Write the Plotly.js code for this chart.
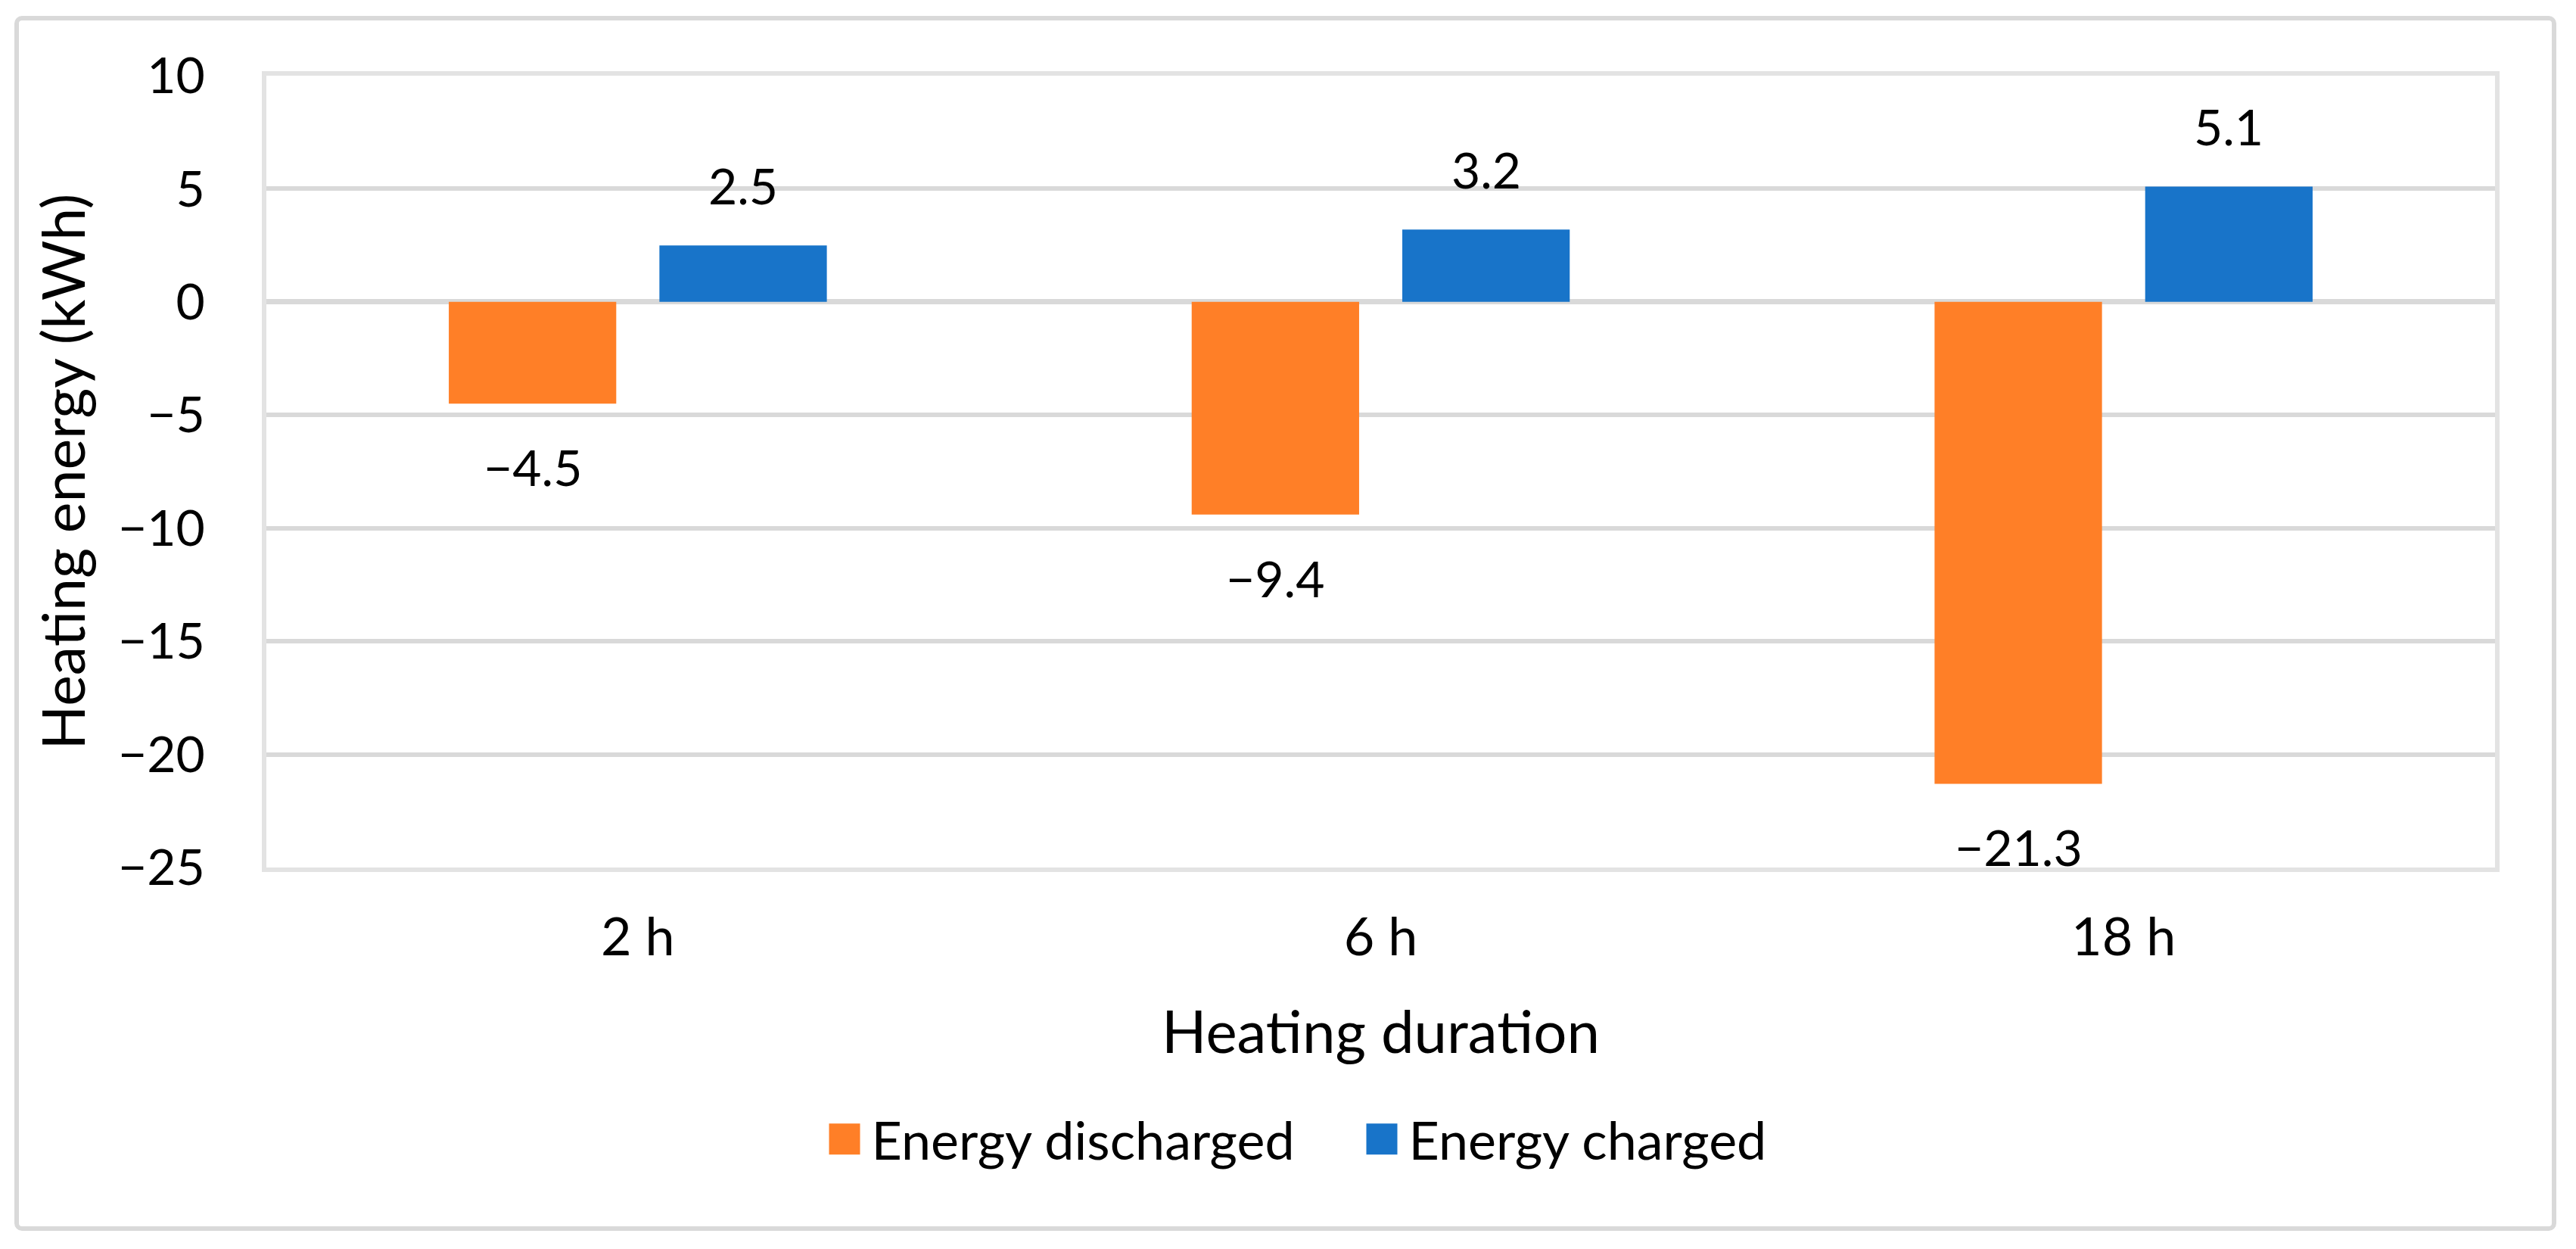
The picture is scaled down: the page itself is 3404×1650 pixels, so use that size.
<!DOCTYPE html>
<html>
<head>
<meta charset="utf-8">
<script src="https://cdn.plot.ly/plotly-3.0.1.min.js"></script>
<style>
  html, body { margin: 0; padding: 0; background: #ffffff; }
  #frame { position: absolute; left: 19px; top: 21px; width: 3359px; height: 1605px;
           border: 6px solid #d9d9d9; border-radius: 10px; box-sizing: border-box; }
  #chart { position: absolute; left: 0; top: 0; width: 3404px; height: 1650px; }
</style>
</head>
<body>
<div id="frame"></div>
<div id="chart"></div>
<script>
// ---- data ----
const categories = ['2 h', '6 h', '18 h'];
const energyDischarged = [-4.5, -9.4, -21.3];
const energyCharged = [2.5, 3.2, 5.1];
const seriesNames = ['Energy discharged', 'Energy charged'];
const yTickValues = [10, 5, 0, -5, -10, -15, -20, -25];
const yRange = [-25, 10];
const xTitle = 'Heating duration';
const yTitle = 'Heating energy (kWh)';

// ---- style ----
const FONT = 'Lato, "Open Sans", sans-serif';
const ORANGE = '#FF7F27';
const BLUE = '#1874C9';
const GRID = '#d9d9d9';
const FRAME = '#e3e3e3';
const bargap = 0.433;
const bargroupgap = 0.205;

const fmt = v => (v < 0 ? '\u2212' : '') + Math.abs(v).toFixed(1);

const traces = [
  { type: 'bar', name: seriesNames[0], x: categories, y: energyDischarged,
    marker: { color: ORANGE }, hoverinfo: 'skip' },
  { type: 'bar', name: seriesNames[1], x: categories, y: energyCharged,
    marker: { color: BLUE }, hoverinfo: 'skip' }
];

// data labels, placed through the category axis
const off = (1 - bargap) / 4;
const annotations = [];
[energyDischarged, energyCharged].forEach((series, s) => {
  series.forEach((v, i) => {
    annotations.push({
      xref: 'x', yref: 'y', x: i + (s === 0 ? -off : off), y: v,
      text: fmt(v), showarrow: false,
      yanchor: v >= 0 ? 'bottom' : 'top',
      yshift: v >= 0 ? 38 : -42,
      font: { family: FONT, size: 66, color: '#000' }
    });
  });
});

const zeroFrac = (0 - yRange[0]) / (yRange[1] - yRange[0]);
const boundaryTicks = [];
for (let i = 0; i <= categories.length; i++) boundaryTicks.push(i - 0.5);
const centerTicks = categories.map((c, i) => i);

const layout = {
  width: 3404, height: 1650,
  margin: { l: 352, r: 107, t: 100, b: 504, pad: 0 },
  paper_bgcolor: 'rgba(0,0,0,0)',
  plot_bgcolor: '#ffffff',
  font: { family: FONT, color: '#000' },
  barmode: 'group', bargap: bargap, bargroupgap: bargroupgap,
  showlegend: true,
  legend: {
    orientation: 'h', xref: 'container', yref: 'container',
    x: 0.526, xanchor: 'center', y: 0.088, yanchor: 'middle',
    font: { family: FONT, size: 70, color: '#000' },
    itemwidth: 61, entrywidth: 634, entrywidthmode: 'pixels',
    traceorder: 'normal', bgcolor: 'rgba(0,0,0,0)'
  },
  xaxis: {
    type: 'category', showline: true, mirror: true, linecolor: FRAME, linewidth: 6,
    ticks: 'outside', ticklen: 26, tickcolor: 'rgba(0,0,0,0)',
    tickfont: { family: FONT, size: 70, color: '#000' },
    showgrid: false, zeroline: false,
    title: { text: xTitle, font: { family: FONT, size: 78, color: '#000' }, standoff: 62 }
  },
  xaxis2: {
    type: 'linear', overlaying: 'x', anchor: 'free', position: zeroFrac, side: 'bottom',
    range: [-0.5, categories.length - 0.5], tickmode: 'array', tickvals: boundaryTicks,
    ticks: 'outside', ticklen: 24, tickwidth: 6, tickcolor: GRID,
    showticklabels: false, showgrid: false, zeroline: false, showline: false
  },
  xaxis3: {
    type: 'linear', overlaying: 'x', anchor: 'free', position: zeroFrac, side: 'bottom',
    range: [-0.5, categories.length - 0.5], tickmode: 'array', tickvals: centerTicks,
    ticks: 'outside', ticklen: 18, tickwidth: 6, tickcolor: GRID,
    showticklabels: false, showgrid: false, zeroline: false, showline: false
  },
  yaxis: {
    range: yRange, tickmode: 'array', tickvals: yTickValues,
    showgrid: true, gridcolor: GRID, gridwidth: 6,
    zeroline: true, zerolinecolor: GRID, zerolinewidth: 7,
    showline: true, mirror: true, linecolor: FRAME, linewidth: 6,
    ticks: 'outside', ticklen: 62, tickcolor: 'rgba(0,0,0,0)',
    tickfont: { family: FONT, size: 66, color: '#000' },
    title: { text: yTitle, font: { family: FONT, size: 77, color: '#000' }, standoff: 20 }
  },
  annotations: annotations
};

Plotly.newPlot('chart', traces, layout, { staticPlot: true, displayModeBar: false }).then(() => {
  document.querySelectorAll('#chart .legendpoints path').forEach(p => {
    p.setAttribute('d', 'M20.5,20.5H-20.5V-20.5H20.5Z');
  });
});
</script>
</body>
</html>
